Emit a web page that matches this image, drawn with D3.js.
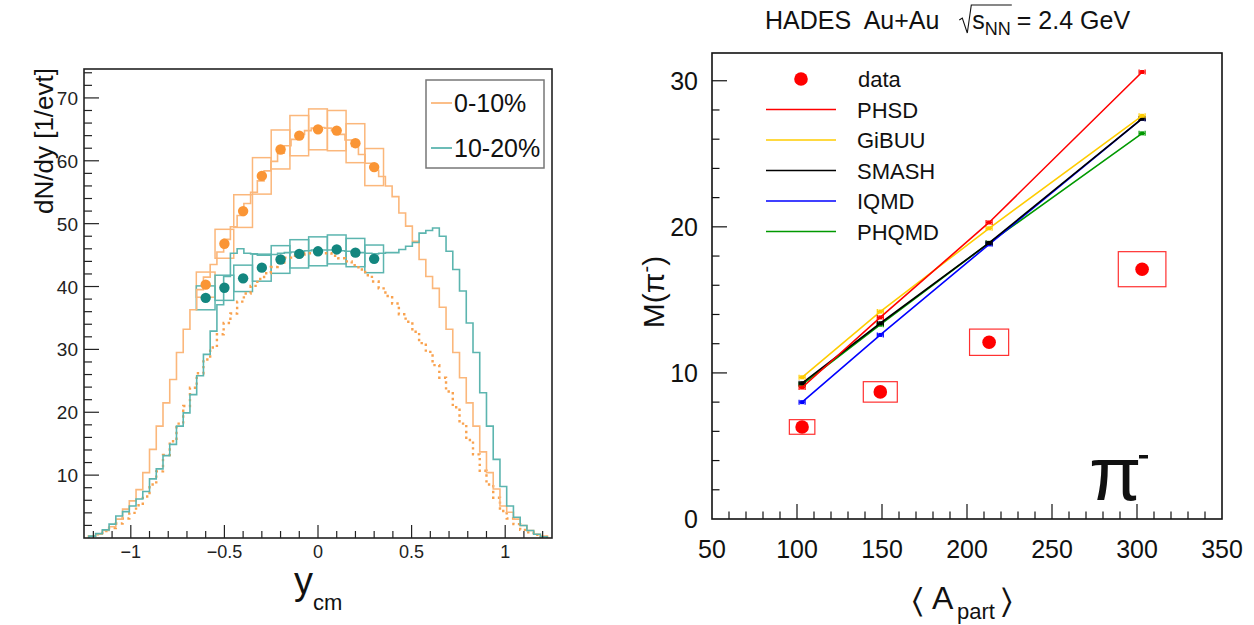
<!DOCTYPE html>
<html>
<head>
<meta charset="utf-8">
<script src="https://cdn.jsdelivr.net/npm/d3@7"></script>
<style>
  body{margin:0;background:#fff;}
  svg text{font-family:"Liberation Sans",Arial,sans-serif;}
</style>
</head>
<body>
<svg id="chart" width="1254" height="625"></svg>
<script>
// ---------- left panel data : dN/dy vs y_cm ----------
var binStart = -1.224
var binWidth = 0.036
// model histograms, one value per bin
var orangeHist = [0.3,0.6,1.2,1.8,3.0,4.6,5.9,7.7,10.4,14.1,17.8,21.5,25.2,29.5,33.2,36.3,
    39.5,41.5,43.5,45.5,47.5,49.5,51.3,53.2,55.0,56.8,58.4,59.9,61.2,62.4,63.4,64.2,64.8,65.2,
    65.3,65.2,64.8,64.2,63.3,62.3,61.0,59.6,58.5,57.5,56.0,54.3,51.7,49.6,47.2,44.3,41.6,39.7,
    36.7,33.2,29.5,25.5,21.5,17.8,13.7,10.4,7.8,5.1,4.1,3.0,2.0,1.2,0.6,0.3]
var tealHist = [0.3,0.7,1.3,2.2,3.5,4.2,5.1,6.2,7.4,9.4,11.0,13.1,14.9,17.8,19.9,22.8,
    25.8,29.2,32.9,37.1,41.6,45.3,46.0,45.3,45.2,45.0,45.0,45.1,45.3,45.4,45.5,45.6,45.7,45.8,
    45.8,45.8,45.8,45.7,45.6,45.5,45.4,45.3,45.2,45.3,45.4,45.4,45.9,46.4,47.0,48.5,48.9,49.3,
    48.0,45.6,42.7,39.3,34.2,29.5,23.1,17.8,12.5,8.2,5.1,3.3,2.0,1.2,0.6,0.2]
var dottedHist = [0.3,0.6,1.1,1.6,2.3,3.1,4.0,5.2,6.6,8.5,10.6,13.2,15.4,18.2,21.0,23.9,
    26.2,28.4,30.3,32.4,34.2,35.7,37.6,38.9,40.1,41.2,42.1,43.1,43.8,44.6,44.9,45.1,45.3,45.4,
    45.4,45.3,44.9,44.5,44.0,43.4,42.7,41.8,40.8,39.7,38.5,37.3,35.6,34.4,32.8,31.0,29.6,27.5,
    25.5,23.3,20.8,18.2,15.6,13.3,10.7,8.5,6.4,4.3,3.1,2.2,1.3,0.9,0.5,0.2]
// measured points
var yPoints = [-0.6,-0.5,-0.4,-0.3,-0.2,-0.1,0,0.1,0.2,0.3]
var orangeVals = [40.3,46.8,52.0,57.6,61.8,64.0,65.0,64.8,62.8,59.0]
var orangeSys = [2.0,2.3,2.6,2.9,3.1,3.2,3.25,3.2,3.1,2.95]
var tealVals = [38.2,39.8,41.3,43.0,44.3,45.2,45.6,45.9,45.4,44.4]
var tealSys = [1.9,2.0,2.1,2.15,2.2,2.25,2.3,2.3,2.25,2.2]
var boxHalfWidth = 0.05
var leftLegend = ["0-10%","10-20%"]
var leftXTicks = [-1,-0.5,0,0.5,1]
var leftXLabels = ["\u22121","\u22120.5","0","0.5","1"]
var leftYTicks = [10,20,30,40,50,60,70]

// ---------- right panel data : M(pi-) vs <Apart> ----------
var apart = [103,149,213,303]
var dataM = [6.3,8.7,12.1,17.1]
var dataXerr = [7.5,10,11.5,14]
var dataYerr = [0.5,0.7,0.9,1.2]
var models = ["PHSD","GiBUU","SMASH","IQMD","PHQMD"]
var modelColors = ["#ff0000","#ffcc00","#000000","#0000ff","#009900"]
var phsd = [9.0,13.8,20.3,30.6]
var gibuu = [9.7,14.2,19.9,27.6]
var smash = [9.3,13.4,18.9,27.4]
var iqmd = [8.0,12.6,18.8,27.4]
var phqmd = [9.2,13.3,18.9,26.4]
var modelVals = [phsd,gibuu,smash,iqmd,phqmd]
var rightXTicks = [50,100,150,200,250,300,350]
var rightYTicks = [0,10,20,30]

var orangeLine = "#fbb77b"
var orangeDot = "#fa9535"
var tealLine = "#5cb5af"
var tealDot = "#13867f"

var svg = d3.select("#chart")

// ================= LEFT PANEL =================
var lx = d3.scaleLinear().domain([-1.25,1.25]).range([84,552])
var ly = d3.scaleLinear().domain([0,74.6]).range([538,69])

function histPoints(vals){
    var pts = [[binStart,0]]
    for(var i in vals){
        pts.push([binStart+i*binWidth, vals[i]])
    }
    pts.push([binStart+vals.length*binWidth, 0])
    return pts
}
var histLine = d3.line()
    .x(function(d){return lx(d[0])})
    .y(function(d){return ly(d[1])})
    .curve(d3.curveStepAfter)

var left = svg.append("g")

// systematic boxes
function drawBoxes(vals,sys,color){
    left.selectAll(null)
        .data(yPoints)
        .enter()
        .append("rect")
        .attr("x",function(d){return lx(d-boxHalfWidth)})
        .attr("width",function(d){return lx(d+boxHalfWidth)-lx(d-boxHalfWidth)})
        .attr("y",function(d,i){return ly(vals[i]+sys[i])})
        .attr("height",function(d,i){return ly(vals[i]-sys[i])-ly(vals[i]+sys[i])})
        .attr("fill","none")
        .attr("stroke",color)
        .attr("stroke-width",1.5)
}
drawBoxes(orangeVals,orangeSys,orangeLine)
drawBoxes(tealVals,tealSys,tealLine)

left.append("path").attr("d",histLine(histPoints(dottedHist)))
    .attr("fill","none").attr("stroke","#f9a24f").attr("stroke-width",2.4)
    .attr("stroke-dasharray","2.4,3.4")
left.append("path").attr("d",histLine(histPoints(orangeHist)))
    .attr("fill","none").attr("stroke",orangeLine).attr("stroke-width",1.6)
left.append("path").attr("d",histLine(histPoints(tealHist)))
    .attr("fill","none").attr("stroke",tealLine).attr("stroke-width",1.6)

left.selectAll(".odot").data(yPoints).enter().append("circle")
    .attr("cx",function(d){return lx(d)})
    .attr("cy",function(d,i){return ly(orangeVals[i])})
    .attr("r",5.2).attr("fill",orangeDot)
left.selectAll(".tdot").data(yPoints).enter().append("circle")
    .attr("cx",function(d){return lx(d)})
    .attr("cy",function(d,i){return ly(tealVals[i])})
    .attr("r",5.2).attr("fill",tealDot)

// frame and ticks
left.append("rect").attr("x",84).attr("y",69).attr("width",468).attr("height",469)
    .attr("fill","none").attr("stroke","#222").attr("stroke-width",1.6)
var lMinorX = d3.range(-12,13).map(function(d){return d/10})
lMinorX.forEach(function(t){
    var major = leftXTicks.indexOf(Math.round(t*10)/10)>-1
    left.append("line").attr("x1",lx(t)).attr("x2",lx(t))
        .attr("y1",538).attr("y2",538-(major?13:7))
        .attr("stroke","#222").attr("stroke-width",1.2)
})
d3.range(2,75,2).forEach(function(t){
    var major = t%10==0
    left.append("line").attr("x1",84).attr("x2",84+(major?15:8))
        .attr("y1",ly(t)).attr("y2",ly(t))
        .attr("stroke","#222").attr("stroke-width",1.2)
})
left.selectAll(".xl").data(leftXTicks).enter().append("text")
    .attr("x",function(d){return lx(d)}).attr("y",558)
    .attr("text-anchor","middle").attr("font-size",18).attr("fill","#222")
    .text(function(d,i){return leftXLabels[i]})
left.selectAll(".yl").data(leftYTicks).enter().append("text")
    .attr("x",78).attr("y",function(d){return ly(d)+7})
    .attr("text-anchor","end").attr("font-size",19).attr("fill","#222")
    .text(function(d){return d})

// axis titles
left.append("text").attr("transform","translate(53,141) rotate(-90)")
    .attr("text-anchor","middle").attr("font-size",26).attr("fill","#111")
    .text("dN/dy [1/evt]")
left.append("text").attr("x",294).attr("y",594).attr("font-size",38).attr("fill","#111").text("y")
left.append("text").attr("x",313).attr("y",610).attr("font-size",22).attr("fill","#111").text("cm")

// legend
left.append("rect").attr("x",426).attr("y",80).attr("width",118).attr("height",88)
    .attr("fill","#fff").attr("stroke","#777").attr("stroke-width",1.5)
var legColors = [orangeLine,tealLine]
leftLegend.forEach(function(name,i){
    var yy = 103+i*45
    left.append("line").attr("x1",431).attr("x2",452).attr("y1",yy).attr("y2",yy)
        .attr("stroke",legColors[i]).attr("stroke-width",1.8)
    left.append("text").attr("x",454).attr("y",yy+9).attr("font-size",25)
        .attr("fill","#111").text(name)
})

// ================= RIGHT PANEL =================
var rx = d3.scaleLinear().domain([50,350]).range([712,1222])
var ry = d3.scaleLinear().domain([0,31.9]).range([519,53])
var right = svg.append("g")

// title with root sign
var title = right.append("g")
var tx = 765, ty = 29
var t1 = title.append("text").attr("x",tx).attr("y",ty).attr("font-size",25).attr("fill","#111")
    .attr("xml:space","preserve").text("HADES  Au+Au  ")
tx += t1.node().getComputedTextLength()+6
var t2 = title.append("text").attr("x",tx+13).attr("y",ty).attr("font-size",25).attr("fill","#111").text("s")
var sx = tx+13+t2.node().getComputedTextLength()
var t3 = title.append("text").attr("x",sx).attr("y",ty+6).attr("font-size",18).attr("fill","#111").text("NN")
var ex = sx+t3.node().getComputedTextLength()
title.append("path")
    .attr("d","M"+(tx)+","+(ty-9)+" L"+(tx+3)+","+(ty-11)+" L"+(tx+8)+","+(ty+4)+" L"+(tx+12)+","+(ty-24)+" L"+(ex+1)+","+(ty-24))
    .attr("fill","none").attr("stroke","#111").attr("stroke-width",1.1)
title.append("text").attr("x",ex+6).attr("y",ty).attr("font-size",25).attr("fill","#111")
    .attr("xml:space","preserve").text("= 2.4 GeV")

// data systematic boxes
right.selectAll(".sys").data(apart).enter().append("rect")
    .attr("x",function(d,i){return rx(d-dataXerr[i])})
    .attr("width",function(d,i){return rx(d+dataXerr[i])-rx(d-dataXerr[i])})
    .attr("y",function(d,i){return ry(dataM[i]+dataYerr[i])})
    .attr("height",function(d,i){return ry(dataM[i]-dataYerr[i])-ry(dataM[i]+dataYerr[i])})
    .attr("fill","none").attr("stroke","#ff3030").attr("stroke-width",1.2)

// model lines
var modelLine = d3.line()
    .x(function(d,i){return rx(apart[i])})
    .y(function(d){return ry(d)})
var drawOrder = [4,3,2,1,0]
drawOrder.forEach(function(m){
    var vals = modelVals[m]
    right.append("path").attr("d",modelLine(vals))
        .attr("fill","none").attr("stroke",modelColors[m]).attr("stroke-width",1.6)
    vals.forEach(function(v,i){
        var px = rx(apart[i]), py = ry(v)
        right.append("rect").attr("x",px-2).attr("y",py-2).attr("width",4).attr("height",4)
            .attr("fill",modelColors[m])
        right.append("path")
            .attr("d","M"+(px-3)+","+(py-2.5)+"V"+(py+2.5)+"M"+(px-3)+","+py+"H"+(px+3)+"M"+(px+3)+","+(py-2.5)+"V"+(py+2.5))
            .attr("fill","none").attr("stroke",modelColors[m]).attr("stroke-width",1.2)
    })
})

// data points
right.selectAll(".dp").data(apart).enter().append("circle")
    .attr("cx",function(d){return rx(d)})
    .attr("cy",function(d,i){return ry(dataM[i])})
    .attr("r",6.8).attr("fill","#ff0000")

// frame and ticks
right.append("rect").attr("x",712).attr("y",53).attr("width",510).attr("height",466)
    .attr("fill","none").attr("stroke","#111").attr("stroke-width",1.6)
d3.range(60,350,10).forEach(function(t){
    var major = t%50==0
    right.append("line").attr("x1",rx(t)).attr("x2",rx(t))
        .attr("y1",519).attr("y2",519-(major?15:7.5))
        .attr("stroke","#111").attr("stroke-width",1.2)
})
d3.range(2,32,2).forEach(function(t){
    var major = t%10==0
    right.append("line").attr("x1",712).attr("x2",712+(major?15:7.5))
        .attr("y1",ry(t)).attr("y2",ry(t))
        .attr("stroke","#111").attr("stroke-width",1.2)
})
right.selectAll(".rxl").data(rightXTicks).enter().append("text")
    .attr("x",function(d){return rx(d)}).attr("y",558)
    .attr("text-anchor","middle").attr("font-size",25).attr("fill","#111")
    .text(function(d){return d})
right.selectAll(".ryl").data(rightYTicks).enter().append("text")
    .attr("x",698).attr("y",function(d){return ry(d)+9})
    .attr("text-anchor","end").attr("font-size",25).attr("fill","#111")
    .text(function(d){return d})

// axis titles
var yt = right.append("text").attr("transform","translate(664,292) rotate(-90)")
    .attr("text-anchor","middle").attr("font-size",30).attr("fill","#111")
yt.append("tspan").text("M(\u03c0")
yt.append("tspan").attr("dy",-11).attr("font-size",20).text("-")
yt.append("tspan").attr("dy",11).text(")")

right.append("text").attr("x",912).attr("y",612).attr("font-size",34).attr("fill","#111").text("\u2329")
right.append("text").attr("x",932).attr("y",609).attr("font-size",32).attr("fill","#111").text("A")
right.append("text").attr("x",957).attr("y",619).attr("font-size",22).attr("fill","#111").text("part")
right.append("text").attr("x",1001).attr("y",612).attr("font-size",34).attr("fill","#111").text("\u232a")

// pi- label
right.append("text").attr("x",1089).attr("y",500).attr("font-size",76)
    .attr("font-family","Liberation Serif, serif").attr("fill","#111").text("\u03c0")
right.append("rect").attr("x",1139).attr("y",455).attr("width",9).attr("height",3.5).attr("fill","#111")

// legend
var legY0 = 79, legStep = 30.5
right.append("circle").attr("cx",801).attr("cy",legY0).attr("r",6.8).attr("fill","#ff0000")
right.append("text").attr("x",858).attr("y",legY0+8).attr("font-size",22).attr("fill","#111").text("data")
models.forEach(function(name,i){
    var yy = legY0+(i+1)*legStep
    right.append("line").attr("x1",766).attr("x2",836).attr("y1",yy).attr("y2",yy)
        .attr("stroke",modelColors[i]).attr("stroke-width",1.6)
    right.append("text").attr("x",857).attr("y",yy+8).attr("font-size",22).attr("fill","#111").text(name)
})
</script>
</body>
</html>
